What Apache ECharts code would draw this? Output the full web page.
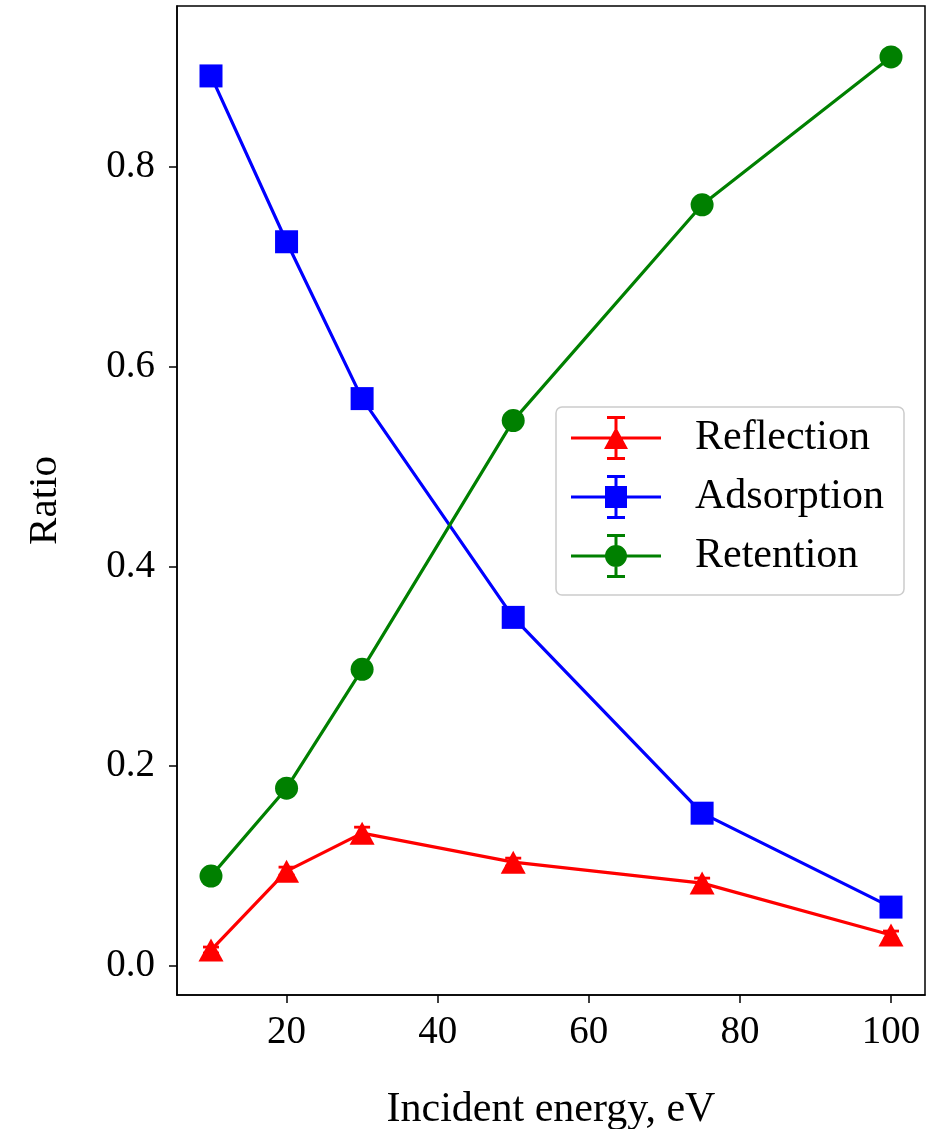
<!DOCTYPE html>
<html>
<head>
<meta charset="utf-8">
<script src="https://cdn.jsdelivr.net/npm/echarts@6/dist/echarts.min.js"></script>
<style>
html,body{margin:0;padding:0;background:#fff;}
#chart{width:944px;height:1129px;}
</style>
</head>
<body>
<div id="chart"></div>
<script>
// ---- data ----
const energies = [10, 20, 30, 50, 75, 100];
const reflection = [0.016, 0.095, 0.133, 0.104, 0.083, 0.031];
const adsorption = [0.891, 0.725, 0.568, 0.349, 0.153, 0.059];
const retention  = [0.090, 0.178, 0.297, 0.546, 0.762, 0.910];
const reflectionErr = [0.003, 0.004, 0.006, 0.004, 0.005, 0.004];
const adsorptionErr = [0.002, 0.003, 0.004, 0.003, 0.002, 0.002];
const retentionErr  = [0.002, 0.003, 0.003, 0.004, 0.003, 0.002];
const seriesNames = ['Reflection', 'Adsorption', 'Retention'];
const xTicks = [20, 40, 60, 80, 100];
const yTicks = [0.0, 0.2, 0.4, 0.6, 0.8];

const FONT = '"Liberation Serif", "DejaVu Serif", serif';
const colors = ['#ff0000', '#0000ff', '#008000'];

function pairs(ys) { return energies.map((x, i) => [x, ys[i]]); }

// legend icon paths (line + errorbar + marker), bounding box 0..90 x 0..44
const base = 'M0 20.5 L90 20.5 L90 23.5 L0 23.5 Z ' +
             'M43.5 0 L46.5 0 L46.5 44 L43.5 44 Z ' +
             'M36 0 L54 0 L54 3 L36 3 Z ' +
             'M36 41 L54 41 L54 44 L36 44 Z ';
const iconTri = 'path://' + base + 'M45 11 L57 33 L33 33 Z';
const iconSq  = 'path://' + base + 'M34 11 L56 11 L56 33 L34 33 Z';
const iconCir = 'path://' + base + 'M34 22 A11 11 0 1 1 56 22 A11 11 0 1 1 34 22 Z';

function errSeries(name, ys, errs, color) {
  const data = energies.map((x, i) => [x, ys[i] - errs[i], ys[i] + errs[i]]);
  return {
    type: 'custom',
    name: name + ' err',
    data: data,
    z: 3,
    silent: true,
    encode: { x: 0, y: [1, 2] },
    renderItem: function (params, api) {
      const x = api.value(0);
      const lo = api.coord([x, api.value(1)]);
      const hi = api.coord([x, api.value(2)]);
      const cw = 8;
      const st = { stroke: color, lineWidth: 2.8 };
      return {
        type: 'group',
        children: [
          { type: 'line', shape: { x1: lo[0], y1: lo[1], x2: hi[0], y2: hi[1] }, style: st },
          { type: 'line', shape: { x1: lo[0] - cw, y1: lo[1], x2: lo[0] + cw, y2: lo[1] }, style: st },
          { type: 'line', shape: { x1: hi[0] - cw, y1: hi[1], x2: hi[0] + cw, y2: hi[1] }, style: st }
        ]
      };
    }
  };
}

function lineSeries(name, ys, color, symbol, size) {
  return {
    type: 'line',
    name: name,
    data: pairs(ys),
    symbol: symbol,
    symbolSize: size,
    showAllSymbol: true,
    z: 4,
    lineStyle: { color: color, width: 3.2 },
    itemStyle: { color: color, borderWidth: 0 },
    emphasis: { disabled: true },
    animation: false
  };
}

const chart = echarts.init(document.getElementById('chart'), null, { renderer: 'canvas' });
chart.setOption({
  animation: false,
  backgroundColor: '#ffffff',
  grid: {
    left: 177, right: 19, top: 6, bottom: 134,
    outerBoundsMode: 'none',
    containLabel: false,
    show: true, borderColor: '#000', borderWidth: 1.5, backgroundColor: 'transparent'
  },
  legend: {
    data: [
      { name: 'Reflection', icon: iconTri },
      { name: 'Adsorption', icon: iconSq },
      { name: 'Retention', icon: iconCir }
    ],
    orient: 'vertical',
    left: 556, top: 407,
    itemWidth: 90, itemHeight: 44, itemGap: 15,
    padding: [9, 20, 17, 15],
    backgroundColor: 'rgba(255,255,255,0.8)',
    borderColor: '#cccccc', borderWidth: 1.5, borderRadius: 6,
    selectedMode: false,
    textStyle: { fontFamily: FONT, fontSize: 42, color: '#000', padding: [14, 0, 0, 29], lineHeight: 30 }
  },
  xAxis: {
    type: 'value',
    min: 5.5, max: 104.5,
    name: 'Incident energy, eV',
    nameLocation: 'middle',
    nameGap: 94,
    nameTextStyle: { fontFamily: FONT, fontSize: 42, color: '#000' },
    splitLine: { show: false },
    axisLine: { show: true, onZero: false, lineStyle: { color: '#000', width: 1.5 } },
    axisTick: { show: true, inside: false, length: 8, lineStyle: { color: '#000', width: 1.5 }, customValues: xTicks },
    axisLabel: { fontFamily: FONT, fontSize: 39, color: '#000', margin: 18, customValues: xTicks,
      formatter: v => String(v) }
  },
  yAxis: {
    type: 'value',
    min: -0.029, max: 0.961,
    name: 'Ratio',
    nameLocation: 'middle',
    nameGap: 111,
    nameTextStyle: { fontFamily: FONT, fontSize: 41, color: '#000' },
    splitLine: { show: false },
    axisLine: { show: true, onZero: false, lineStyle: { color: '#000', width: 1.5 } },
    axisTick: { show: true, inside: false, length: 8, lineStyle: { color: '#000', width: 1.5 }, customValues: yTicks },
    axisLabel: { fontFamily: FONT, fontSize: 39, color: '#000', margin: 22, customValues: yTicks,
      formatter: v => v.toFixed(1) }
  },
  series: [
    lineSeries('Reflection', reflection, colors[0], 'triangle', [25, 23]),
    errSeries('Reflection', reflection, reflectionErr, colors[0]),
    lineSeries('Adsorption', adsorption, colors[1], 'rect', 23),
    errSeries('Adsorption', adsorption, adsorptionErr, colors[1]),
    lineSeries('Retention', retention, colors[2], 'circle', 23),
    errSeries('Retention', retention, retentionErr, colors[2])
  ]
});
</script>
</body>
</html>
